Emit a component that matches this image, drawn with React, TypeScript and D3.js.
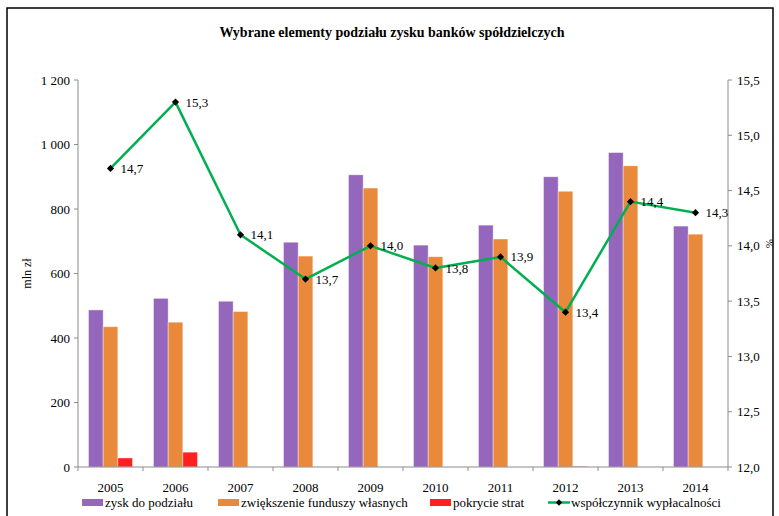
import React from "react";
import { scaleBand, scaleLinear, line } from "d3";

// data
const years = ["2005", "2006", "2007", "2008", "2009", "2010", "2011", "2012", "2013", "2014"];
const zysk = [487, 523, 514, 697, 906, 688, 750, 900, 975, 747];
const zwiekszenie = [435, 449, 482, 654, 865, 652, 707, 855, 934, 722];
const pokrycie = [28, 46, 0, 0, 0, 0, 0, 2, 0, 0];
const wspolczynnik = [14.7, 15.3, 14.1, 13.7, 14.0, 13.8, 13.9, 13.4, 14.4, 14.3];

const leftTicks = [0, 200, 400, 600, 800, 1000, 1200];
const rightTicks = [12.0, 12.5, 13.0, 13.5, 14.0, 14.5, 15.0, 15.5];

const seriesNames = ["zysk do podziału", "zwiększenie funduszy własnych", "pokrycie strat"];
const colors = ["#9467BD", "#E8893C", "#FF2121"];
const lineColor = "#00B050";
const axisColor = "#8C8C8C";
const font = "'Liberation Serif', 'Times New Roman', serif";

const fmtLeft = (v: number) =>
  v >= 1000 ? `${Math.floor(v / 1000)} ${String(v % 1000).padStart(3, "0")}` : String(v);
const fmtComma = (v: number) => v.toFixed(1).replace(".", ",");

export default function App() {
  const left = 78, right = 728, top = 80, bottom = 467;

  const x = scaleBand<string>().domain(years).range([left, right]).padding(0);
  const inner = scaleBand<number>()
    .domain([0, 1, 2])
    .range([10.5, x.bandwidth() - 10.5])
    .padding(0);
  const y = scaleLinear().domain([0, 1200]).range([bottom, top]);
  const y2 = scaleLinear().domain([12, 15.5]).range([bottom, top]);

  const seriesData = [zysk, zwiekszenie, pokrycie];

  const pts = years.map((yr, i) => [x(yr)! + x.bandwidth() / 2, y2(wspolczynnik[i])] as [number, number]);
  const path = line()(pts) || "";

  const diamond = (cx: number, cy: number, r = 3.6) =>
    `M${cx},${cy - r}L${cx + r},${cy}L${cx},${cy + r}L${cx - r},${cy}Z`;

  const legendItems = [
    { x: 82, label: seriesNames[0], color: colors[0], type: "rect" },
    { x: 218, label: seriesNames[1], color: colors[1], type: "rect" },
    { x: 430, label: seriesNames[2], color: colors[2], type: "rect" },
    { x: 548, label: "współczynnik wypłacalności", color: lineColor, type: "line" },
  ];

  return (
    <svg width={779} height={516} style={{ position: "absolute", left: 0, top: 0 }} fontFamily={font}>
      <rect x={0} y={0} width={779} height={516} fill="#fff" />
      <rect x={7} y={8} width={766} height={530} fill="#fff" stroke="#000" strokeWidth={1.5} />

      <text x={392} y={37} textAnchor="middle" fontSize={14} fontWeight="bold">
        Wybrane elementy podziału zysku banków spółdzielczych
      </text>

      {/* bars */}
      {seriesData.map((vals, s) =>
        years.map((yr, i) =>
          vals[i] > 0 ? (
            <rect
              key={`${s}-${yr}`}
              x={x(yr)! + inner(s)!}
              y={y(vals[i])}
              width={inner.bandwidth()}
              height={bottom - y(vals[i])}
              fill={colors[s]}
              stroke="#fff"
              strokeOpacity={0.5}
              strokeWidth={0.8}
            />
          ) : null
        )
      )}

      {/* left axis */}
      <line x1={left} x2={left} y1={top} y2={bottom} stroke={axisColor} />
      {leftTicks.map((t) => (
        <g key={t}>
          <line x1={left - 4} x2={left} y1={y(t)} y2={y(t)} stroke={axisColor} />
          <text x={70} y={y(t)} dy="0.35em" textAnchor="end" fontSize={13}>
            {fmtLeft(t)}
          </text>
        </g>
      ))}
      <text transform={`translate(31,${(top + bottom) / 2}) rotate(-90)`} textAnchor="middle" fontSize={12}>
        mln zł
      </text>

      {/* right axis */}
      <line x1={right} x2={right} y1={top} y2={bottom} stroke={axisColor} />
      {rightTicks.map((t) => (
        <g key={t}>
          <line x1={right} x2={right + 4} y1={y2(t)} y2={y2(t)} stroke={axisColor} />
          <text x={737} y={y2(t)} dy="0.35em" textAnchor="start" fontSize={13}>
            {fmtComma(t)}
          </text>
        </g>
      ))}
      <text transform={`translate(766,${(top + bottom) / 2 - 30}) rotate(90)`} textAnchor="middle" fontSize={11}>
        %
      </text>

      {/* x axis */}
      <line x1={left} x2={right} y1={bottom} y2={bottom} stroke={axisColor} strokeWidth={1.2} />
      {[...years.map((yr) => x(yr)!), right].map((px, i) => (
        <line key={i} x1={px} x2={px} y1={bottom} y2={bottom + 4} stroke={axisColor} />
      ))}
      {years.map((yr) => (
        <text key={yr} x={x(yr)! + x.bandwidth() / 2} y={487} dy="0.35em" textAnchor="middle" fontSize={13}>
          {yr}
        </text>
      ))}

      {/* line series */}
      <path d={path} fill="none" stroke={lineColor} strokeWidth={2.5} strokeLinejoin="round" />
      {pts.map(([px, py], i) => (
        <g key={i}>
          <path d={diamond(px, py)} fill="#000" />
          <text x={px + 10} y={py} dy="0.35em" fontSize={13}>
            {fmtComma(wspolczynnik[i])}
          </text>
        </g>
      ))}

      {/* legend */}
      {legendItems.map((it) => (
        <g key={it.label}>
          {it.type === "rect" ? (
            <rect x={it.x} y={499} width={21} height={7} fill={it.color} />
          ) : (
            <g>
              <line x1={it.x} x2={it.x + 22} y1={502.5} y2={502.5} stroke={it.color} strokeWidth={2.5} />
              <path d={diamond(it.x + 11, 502.5, 3.2)} fill="#000" />
            </g>
          )}
          <text x={it.x + 23} y={502.5} dy="0.35em" fontSize={13}>
            {it.label}
          </text>
        </g>
      ))}
    </svg>
  );
}
